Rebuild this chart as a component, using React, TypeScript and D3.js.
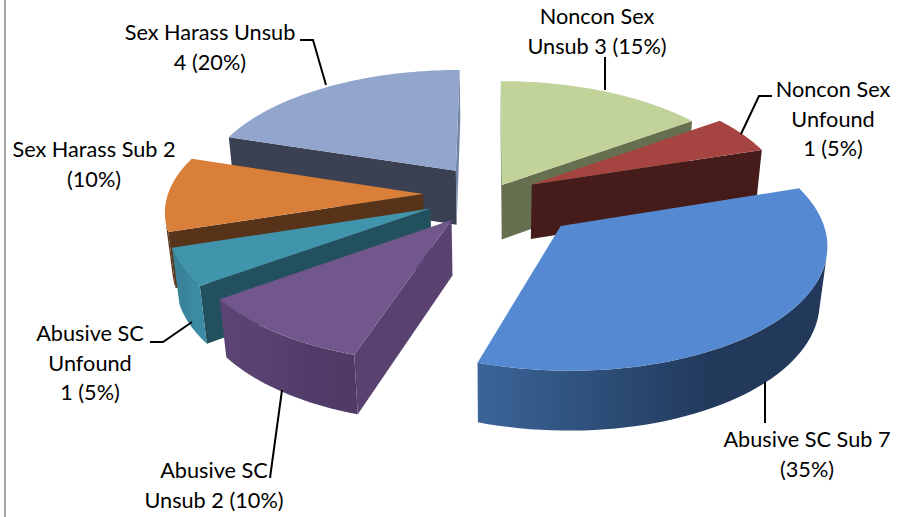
import React from "react";
import * as d3 from "d3";

// chart values, clockwise from the big blue slice
const categories = [
  "Abusive SC Sub",
  "Abusive SC Unsub",
  "Abusive SC Unfound",
  "Sex Harass Sub",
  "Sex Harass Unsub",
  "Noncon Sex Unsub",
  "Noncon Sex Unfound",
];
const counts = [7, 2, 1, 2, 4, 3, 1];
const labelLines = [
  ["Abusive SC Sub 7", "(35%)"],
  ["Abusive SC", "Unsub 2 (10%)"],
  ["Abusive SC", "Unfound", "1 (5%)"],
  ["Sex Harass Sub 2", "(10%)"],
  ["Sex Harass Unsub", "4 (20%)"],
  ["Noncon Sex", "Unsub 3 (15%)"],
  ["Noncon Sex", "Unfound", "1 (5%)"],
];

// how the slices are pulled out of the pie
const explode = [94, 67, 68, 69, 63, 22, 45];
const topColors = ["#558ad2", "#72578c", "#4095ad", "#d97f3a", "#92a6cd", "#c2d399", "#a54441"];
const wallColors = ["#22395b", "#5a4270", "#22505f", "#57331a", "#3b4152", "#667050", "#451c1a"];
const endWallColors = ["#22395b", "#5a4270", "#22505f", "#57331a", "#7486a8", "#667050", "#451c1a"];
const rimStops = [
  ["#3b6599", "#2e4f7a", "#22395b", "#22395b"],
  ["#5c4474", "#594270", "#513b68", "#4f3a66"],
  ["#388399", "#388399", "#3a8ba3", "#3a8ba3"],
  ["#57331a", "#57331a", "#57331a", "#57331a"],
  ["#3b4152", "#3b4152", "#3b4152", "#3b4152"],
  ["#667050", "#667050", "#667050", "#667050"],
  ["#451c1a", "#451c1a", "#451c1a", "#451c1a"],
];
// back to front
const drawOrder = [4, 3, 2, 1, 5, 6, 0];

const labelCenters = [807, 214, 90, 94, 210, 597, 833];
const labelBaselines = [447, 478, 341, 157, 40, 24, 97];
const leaders: [number, number][][] = [
  [[765, 382], [765, 423]],
  [[282, 390], [270, 478]],
  [[192, 322], [163, 342], [150, 342]],
  [],
  [[326, 85], [313, 40], [300, 40]],
  [[605, 90], [605, 57]],
  [[741, 134], [759, 96], [772, 96]],
];

const cx = 492;
const cy = 194;
const radius = 255;
const depth = 56;
const tilt = 0.465;
const persp = 0.000479;
const perspZ = 0.0004;

// plane of the pie -> screen
const project = (x: number, y: number, z: number): [number, number] => {
  const p = 1 / (1 - persp * y + perspZ * z);
  return [cx + x * p, cy + (y * tilt + z) * p];
};

const pie = d3
  .pie<number>()
  .sort(null)
  .startAngle((72 * Math.PI) / 180)
  .endAngle((432 * Math.PI) / 180);

const outline = d3.line();

const slices = pie(counts).map((d, i) => {
  const mid = (d.startAngle + d.endAngle) / 2;
  const ox = Math.sin(mid) * explode[i];
  const oy = -Math.cos(mid) * explode[i];
  const at = (a: number, r: number, z: number) =>
    project(ox + Math.sin(a) * r, oy - Math.cos(a) * r, z);
  const steps = d3.range(0, 61).map((k) => d.startAngle + ((d.endAngle - d.startAngle) * k) / 60);
  const top = steps.map((a) => at(a, radius, 0));
  const bottom = steps.map((a) => at(a, radius, depth));
  const apex = at(0, 0, 0);
  const apexLow = at(0, 0, depth);

  const walls: { d: string; fill: string }[] = [];
  const startWall = [apex, top[0], bottom[0], apexLow];
  const endWall = [top[60], apex, apexLow, bottom[60]];
  if (d3.polygonArea(startWall) > 0) walls.push({ d: outline(startWall)! + "Z", fill: wallColors[i] });
  if (d3.polygonArea(endWall) > 0) walls.push({ d: outline(endWall)! + "Z", fill: endWallColors[i] });

  // only the part of the rim that faces the viewer
  const seen = d3
    .range(0, 60)
    .filter((k) => d3.polygonArea([top[k], top[k + 1], bottom[k + 1], bottom[k]]) > 0);
  let rim = "";
  if (seen.length) {
    const from = seen[0];
    const to = seen[seen.length - 1] + 1;
    rim = outline([...top.slice(from, to + 1), ...bottom.slice(from, to + 1).reverse()])! + "Z";
  }
  return { i, walls, rim, face: outline([apex, ...top])! + "Z" };
});

export default function App() {
  return (
    <svg
      width={915}
      height={517}
      style={{ position: "absolute", left: 0, top: 0, background: "#fff" }}
      fontFamily="Lato, 'Open Sans', sans-serif"
    >
      <defs>
        {rimStops.map((stops, i) => (
          <linearGradient key={i} id={`rim${i}`} x1="0" x2="1" y1="0" y2="0">
            {stops.map((c, k) => (
              <stop key={k} offset={k / (stops.length - 1)} stopColor={c} />
            ))}
          </linearGradient>
        ))}
      </defs>
      <line x1={5} x2={5} y1={0} y2={517} stroke="#a6a6a6" strokeWidth={2} />

      {drawOrder.map((i) => {
        const s = slices[i];
        return (
          <g key={categories[i]}>
            {s.walls.map((w, k) => (
              <path key={k} d={w.d} fill={w.fill} />
            ))}
            {s.rim && <path d={s.rim} fill={`url(#rim${i})`} />}
            <path d={s.face} fill={topColors[i]} />
          </g>
        );
      })}

      {leaders.map((pts, i) =>
        pts.length ? (
          <path key={i} d={outline(pts)!} fill="none" stroke="#000" strokeWidth={2} />
        ) : null
      )}

      {labelLines.map((lines, i) => (
        <text key={i} textAnchor="middle" fontSize={21.7} fill="#000">
          {lines.map((t, k) => (
            <tspan key={k} x={labelCenters[i]} y={labelBaselines[i] + k * 29.5}>
              {t}
            </tspan>
          ))}
        </text>
      ))}
    </svg>
  );
}
